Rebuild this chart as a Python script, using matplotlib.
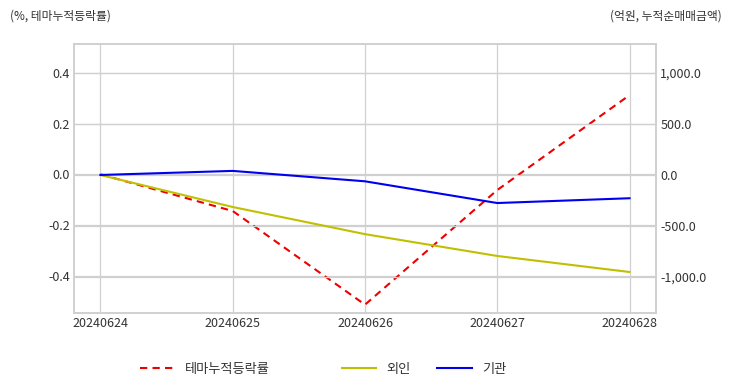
import matplotlib
matplotlib.use("Agg")
import matplotlib.pyplot as plt
import matplotlib.ticker as plticker

plt.rcParams['font.family'] = ['Noto Sans CJK KR', 'DejaVu Sans']
plt.rcParams['axes.unicode_minus'] = False

dates = ['20240624', '20240625', '20240626', '20240627', '20240628']
theme_rate = [0.0, -0.145, -0.515, -0.062, 0.313]      # %, left axis
foreign = [0.0, -314, -580, -794, -951]                # 억원, right axis
institution = [0.0, 40, -62, -275, -228]               # 억원, right axis

grid_c = '#d0d0d0'
text_c = '#333333'

fig = plt.figure(figsize=(7.32, 3.92), dpi=100)
ax1 = fig.add_axes([74 / 732, 1 - 313 / 392, 582 / 732, 269 / 392])
ax2 = ax1.twinx()

x = list(range(len(dates)))
l1, = ax1.plot(x, theme_rate, color='#ee0000', linestyle='--', linewidth=1.5,
               dashes=(3.5, 2.5), label='테마누적등락률')
l2, = ax2.plot(x, foreign, color='#c0c000', linewidth=1.5, label='외인')
l3, = ax2.plot(x, institution, color='#0000ee', linewidth=1.5, label='기관')

ax1.set_xlim(-0.2, 4.2)
ax1.set_ylim(-0.548, 0.515)
ax2.set_ylim(-1353, 1284)
ax1.set_xticks(x)
ax1.set_xticklabels(dates)
ax1.set_yticks([-0.4, -0.2, 0.0, 0.2, 0.4])
ax1.yaxis.set_major_formatter(plticker.FormatStrFormatter('%.1f'))
ax2.set_yticks([-1000, -500, 0, 500, 1000])
ax2.yaxis.set_major_formatter(plticker.FuncFormatter(lambda v, p: f'{v:,.1f}'))

for ax in (ax1, ax2):
    ax.tick_params(length=0, labelsize=9, colors=text_c, pad=3)
    for s in ax.spines.values():
        s.set_color(grid_c)
        s.set_linewidth(1.2)
ax1.grid(True, color=grid_c, linewidth=0.9)
ax2.grid(True, axis='y', color=grid_c, linewidth=0.9)
ax1.set_axisbelow(True)
ax2.set_axisbelow(True)

fig.text(10 / 732, 1 - 16 / 392, '(%, 테마누적등락률)', fontsize=8.5, color=text_c,
         ha='left', va='center')
fig.text(722 / 732, 1 - 16 / 392, '(억원, 누적순매매금액)', fontsize=8.5, color=text_c,
         ha='right', va='center')

leg1 = fig.legend(handles=[l1], loc='center left', bbox_to_anchor=(128 / 732, 1 - 369 / 392),
                  frameon=False, fontsize=9.5, handlelength=2.6)
leg2 = fig.legend(handles=[l2, l3], loc='center left', bbox_to_anchor=(330 / 732, 1 - 369 / 392),
                  frameon=False, fontsize=9.5, ncol=2, handlelength=2.6, columnspacing=2.0)
for leg in (leg1, leg2):
    for t in leg.get_texts():
        t.set_color(text_c)

fig.savefig('out.png', dpi=100)
